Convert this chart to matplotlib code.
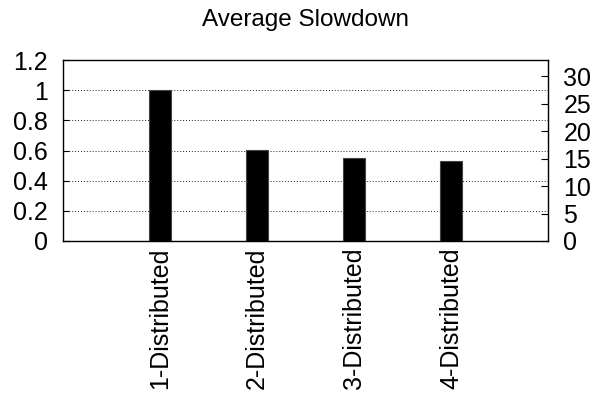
import matplotlib
matplotlib.use("Agg")
import matplotlib.pyplot as plt
import numpy as np

plt.rcParams['font.family'] = ['Liberation Sans', 'DejaVu Sans']

# average slowdown per configuration
configs = ["1-Distributed", "2-Distributed", "3-Distributed", "4-Distributed"]
slowdown = [1.0, 0.605, 0.548, 0.533]
left_ticks = [0, 0.2, 0.4, 0.6, 0.8, 1, 1.2]
left_labels = ["0", "0.2", "0.4", "0.6", "0.8", "1", "1.2"]
right_ticks = [0, 5, 10, 15, 20, 25, 30]

fig = plt.figure(figsize=(5.95, 3.96), dpi=100)
ax = fig.add_axes([63 / 595, 1 - 241 / 396, 485 / 595, 181 / 396])

x = np.arange(len(configs))
ax.bar(x, slowdown, width=0.23, color="black", edgecolor="#444444", linewidth=0.8, zorder=3)

ax.set_xlim(-1, 4)
ax.set_ylim(0, 1.2)
ax.set_yticks(left_ticks)
ax.set_yticklabels(left_labels, fontsize=18)
ax.set_xticks(x)
ax.set_xticklabels(configs, rotation=90, fontsize=18, va="top")
ax.tick_params(axis="x", length=0, pad=5)
ax.tick_params(axis="y", direction="in", length=4, width=0.8, pad=11)
ax.grid(axis="y", linestyle=(0, (1, 2)), color="#222222", linewidth=0.7, zorder=0)
for s in ax.spines.values():
    s.set_linewidth(1.0)
    s.set_color("#333333")

ax2 = ax.twinx()
ax2.set_ylim(0, 33)
ax2.set_yticks(right_ticks)
ax2.set_yticklabels([str(t) for t in right_ticks], fontsize=18)
ax2.tick_params(axis="y", direction="in", length=5, width=0.8, pad=11)

fig.text(305 / 595, 1 - 20 / 396, "Average Slowdown", ha="center", va="center", fontsize=17.5)

fig.savefig("out.png", dpi=100)
